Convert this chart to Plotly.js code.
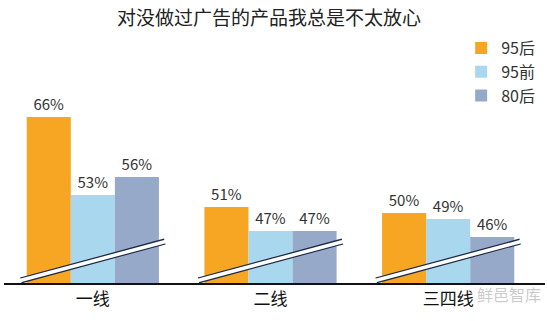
<!DOCTYPE html>
<html><head><meta charset="utf-8">
<script src="https://cdn.plot.ly/plotly-3.0.1.min.js"></script>
<style>html,body{margin:0;padding:0;background:#fff;}#chart{width:547px;height:321px;}</style>
</head><body><div id="chart"></div>
<script>
var categories = ['一线', '二线', '三四线'];
var seriesNames = ['95后', '95前', '80后'];
var s95after = [66, 51, 50];
var s95before = [53, 47, 49];
var s80after = [56, 47, 46];
var colors = ['#F6A623', '#A8D7EE', '#97A9C9'];

var FONT = 'Microsoft YaHei, "Noto Sans CJK SC", "Noto Sans", sans-serif';
var yMin = 38.33, yMax = 75.5;
var series = [s95after, s95before, s80after];
var traces = series.map(function (vals, i) {
  return {
    type: 'bar', name: seriesNames[i], x: categories, y: vals,
    marker: {color: colors[i], line: {width: 0}},
    texttemplate: '%{y}%', textposition: 'outside', cliponaxis: false,
    textfont: {size: 15, color: '#333', family: FONT},
    hoverinfo: 'skip'
  };
});

// axis-break decorations, one per category group
var shapes = [];
var pxPerUnit = 6;
categories.forEach(function (c, i) {
  var x0 = i - 0.405, x1 = i + 0.405;
  var ya = yMin + 2.5 / pxPerUnit, yb = yMin + 41.5 / pxPerUnit;
  shapes.push({type: 'line', xref: 'x', yref: 'y', x0: x0, x1: x1, y0: ya, y1: yb,
    line: {color: '#1d2a45', width: 6}, layer: 'above'});
  shapes.push({type: 'line', xref: 'x', yref: 'y', x0: x0 - 0.004, x1: x1 + 0.004, y0: ya, y1: yb,
    line: {color: '#ffffff', width: 3.5}, layer: 'above'});
});

var layout = {
  width: 547, height: 321,
  margin: {l: 4, r: 2, t: 60, b: 38},
  paper_bgcolor: '#fff', plot_bgcolor: '#fff',
  title: {text: '对没做过广告的产品我总是不太放心', x: 0.49, xref: 'paper', y: 0.944, yanchor: 'middle',
    font: {size: 19, color: '#222', family: FONT}},
  barmode: 'group', bargap: 0.256, bargroupgap: 0,
  showlegend: true,
  legend: {x: 0.845, xanchor: 'left', y: 1.13, yanchor: 'top', yref: 'paper',
    font: {size: 16, color: '#333', family: FONT}, tracegroupgap: 0, itemwidth: 30,
    bgcolor: 'rgba(0,0,0,0)'},
  xaxis: {type: 'category', range: [-0.5, 2.545], showline: true, linecolor: '#111', linewidth: 1.5,
    ticks: '', showgrid: false, zeroline: false,
    tickfont: {size: 17, color: '#111', family: FONT}, fixedrange: true},
  yaxis: {range: [yMin, yMax], visible: false, showgrid: false, zeroline: false, fixedrange: true},
  shapes: shapes,
  annotations: [{text: '鲜邑智库', xref: 'paper', yref: 'paper', x: 0.996, y: -0.05, xanchor: 'right', yanchor: 'middle',
    showarrow: false, font: {size: 16, color: 'rgba(150,150,150,0.5)', family: FONT}}]
};
Plotly.newPlot('chart', traces, layout, {displayModeBar: false, staticPlot: true});
</script></body></html>
